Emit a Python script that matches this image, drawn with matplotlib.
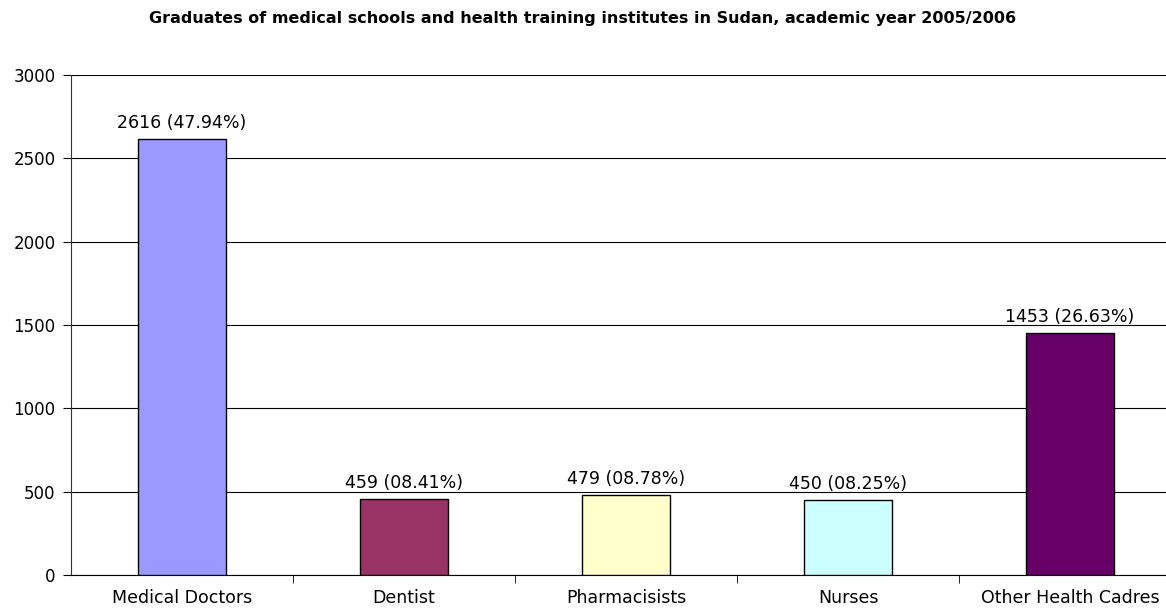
import matplotlib.pyplot as plt
import numpy as np

categories = ['Medical Doctors', 'Dentist', 'Pharmacisists', 'Nurses', 'Other Health Cadres']
graduates = [2616, 459, 479, 450, 1453]
shares = ['47.94', '08.41', '08.78', '08.25', '26.63']
colors = ['#9999FF', '#993366', '#FFFFCC', '#CCFFFF', '#660066']

plt.rcParams['font.family'] = ['DejaVu Sans']

W, H = 1166, 608
fig = plt.figure(figsize=(W / 100, H / 100), dpi=100)
# category slots are 222 px wide, the last one runs past the figure edge
ax = fig.add_axes([71 / W, 33 / H, 1110 / W, 500 / H])

xs = np.arange(len(categories))
ax.bar(xs, graduates, width=0.4, color=colors, edgecolor='black', linewidth=1, zorder=3)
for x, v, s in zip(xs, graduates, shares):
    ax.annotate(f'{v} ({s}%)', (x, v), xytext=(0, 5), textcoords='offset points',
                ha='center', va='bottom', fontsize=12.5)

ax.set_xlim(-0.5, len(categories) - 0.5)
ax.set_ylim(0, 3000)
ax.set_yticks(np.arange(0, 3001, 500))
ax.set_xticks(xs)
ax.set_xticklabels(categories, fontsize=12.5)
ax.set_xticks(xs[:-1] + 0.5, minor=True)
ax.tick_params(axis='x', which='major', length=0, pad=10)
ax.tick_params(axis='x', which='minor', length=6, direction='out', color='black')
ax.tick_params(axis='y', length=6, direction='out', labelsize=12, pad=5)
ax.yaxis.grid(True, color='black', linewidth=0.8, zorder=0)
for side in ['top', 'right']:
    ax.spines[side].set_visible(False)
ax.spines['left'].set_color('#333333')
ax.spines['bottom'].set_color('black')

fig.text(0.5, 1 - 18 / H, 'Graduates of medical schools and health training institutes in Sudan, academic year 2005/2006',
         ha='center', va='center', fontsize=11.5, fontweight='bold')

fig.savefig('out.png', dpi=100)
